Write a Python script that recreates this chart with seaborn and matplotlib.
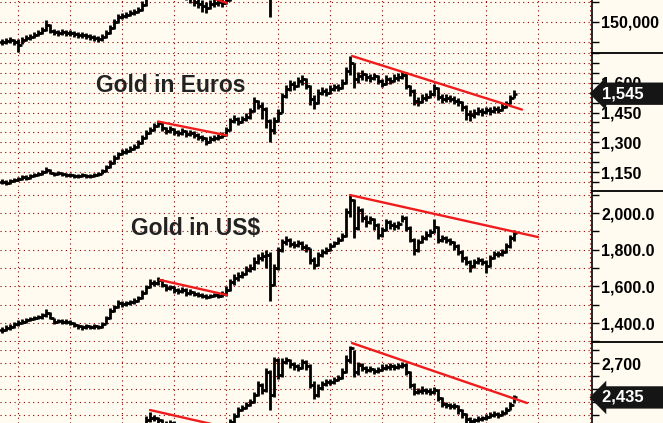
import numpy as np
import pandas as pd
import matplotlib
matplotlib.use("Agg")
import matplotlib.pyplot as plt
from matplotlib.lines import Line2D
import seaborn as sns

# weekly OHLC bars, open = previous close
# top panel (gold in rupees) - only the part visible in the crop
inr_close = [140000, 140500, 141000, 140000, 138500, 141000, 142000, 142500, 143500, 144500,
             146000, 148500, 145500, 145000, 144500, 145000, 144500, 144500, 144000, 143500,
             143500, 143000, 142500, 142000, 141500, 142500, 144500, 147000, 150000, 152500,
             153000, 153500, 154500, 155000, 156000, 158500, 162000, 164000, 166000, 168000,
             166000, 165000, 165000, 164000, 163500, 164000, 163000, 162000, 160000, 159000,
             158000, 157000, 159000, 159500, 160000, 159500, 161000, 166000, 168500, 170000,
             171000, 173000, 175000, 178500, 180000, 181000, 178500, 166000, 173500, 181000,
             188500, 191000, 193500]
inr_high = [141500, 142000, 142500, 141500, 141500, 142500, 143500, 144000, 145000, 146000,
            147500, 151000, 149000, 146500, 146000, 146500, 146000, 146000, 145500, 145000,
            145000, 144500, 144000, 143500, 143000, 144000, 146000, 148500, 151500, 154000,
            154500, 155000, 156000, 156500, 157500, 160500, 164000, 166000, 168000, 170000,
            168500, 167000, 167000, 166000, 165500, 166000, 165000, 164000, 163000, 162000,
            161000, 160000, 161000, 161500, 162000, 161500, 166000, 168500, 171000, 172000,
            173000, 175500, 178500, 181000, 182500, 183500, 182000, 180000, 176000, 184000,
            191000, 193500, 196000]
inr_low = [138500, 139000, 139500, 138500, 135000, 139000, 140500, 141000, 142000, 143000,
           144000, 145500, 144500, 143500, 143000, 143500, 143000, 143000, 142500, 142000,
           142000, 141500, 141000, 140500, 140000, 140500, 142000, 144000, 146500, 149500,
           151500, 152000, 153000, 153500, 154500, 155500, 158000, 161500, 163500, 165500,
           164000, 163000, 163000, 162000, 161500, 162000, 161000, 159500, 158000, 157000,
           155000, 154500, 156500, 157500, 158000, 157500, 159000, 160500, 165500, 167500,
           169000, 170500, 172500, 174500, 177500, 178500, 170000, 152500, 164000, 172000,
           180000, 187500, 190000]

eur_close = [1100, 1095, 1105, 1110, 1115, 1125, 1120, 1130, 1135, 1140,
             1150, 1160, 1145, 1140, 1145, 1140, 1135, 1135, 1130, 1130,
             1135, 1130, 1130, 1135, 1140, 1155, 1175, 1195, 1220, 1240,
             1250, 1255, 1265, 1275, 1295, 1320, 1345, 1360, 1380, 1395,
             1370, 1355, 1365, 1350, 1345, 1355, 1340, 1345, 1335, 1325,
             1320, 1300, 1315, 1320, 1325, 1335, 1360, 1410, 1420, 1405,
             1420, 1430, 1460, 1510, 1485, 1470, 1410, 1360, 1410, 1450,
             1535, 1570, 1595, 1585, 1610, 1620, 1585, 1520, 1500, 1550,
             1560, 1550, 1570, 1580, 1575, 1600, 1660, 1700, 1620, 1635,
             1645, 1630, 1625, 1635, 1610, 1595, 1620, 1610, 1625, 1630,
             1640, 1585, 1560, 1510, 1505, 1525, 1530, 1545, 1575, 1530,
             1520, 1525, 1520, 1510, 1505, 1480, 1445, 1440, 1450, 1460,
             1455, 1465, 1460, 1470, 1465, 1480, 1495, 1525, 1545]
eur_high = [1115, 1110, 1115, 1120, 1125, 1135, 1135, 1140, 1145, 1150,
            1160, 1175, 1165, 1150, 1155, 1150, 1145, 1145, 1140, 1140,
            1145, 1140, 1140, 1145, 1150, 1165, 1185, 1210, 1235, 1250,
            1265, 1270, 1280, 1290, 1310, 1335, 1360, 1375, 1395, 1410,
            1400, 1375, 1380, 1370, 1360, 1370, 1360, 1360, 1355, 1345,
            1335, 1325, 1330, 1335, 1340, 1350, 1375, 1425, 1440, 1430,
            1435, 1450, 1475, 1530, 1515, 1505, 1480, 1420, 1430, 1470,
            1550, 1590, 1615, 1610, 1630, 1640, 1625, 1590, 1540, 1570,
            1580, 1575, 1590, 1595, 1595, 1620, 1680, 1735, 1700, 1655,
            1665, 1650, 1645, 1650, 1640, 1620, 1640, 1630, 1645, 1650,
            1660, 1655, 1590, 1570, 1530, 1545, 1550, 1565, 1595, 1580,
            1545, 1545, 1540, 1535, 1525, 1510, 1490, 1465, 1470, 1480,
            1475, 1480, 1480, 1485, 1485, 1500, 1510, 1540, 1565]
eur_low = [1090, 1085, 1090, 1100, 1105, 1110, 1110, 1115, 1125, 1130,
           1135, 1145, 1140, 1130, 1135, 1130, 1125, 1125, 1120, 1120,
           1125, 1120, 1120, 1125, 1130, 1140, 1150, 1170, 1190, 1215,
           1235, 1240, 1250, 1260, 1270, 1290, 1315, 1340, 1355, 1375,
           1355, 1340, 1345, 1335, 1330, 1335, 1325, 1330, 1320, 1310,
           1305, 1285, 1295, 1305, 1310, 1320, 1330, 1355, 1395, 1385,
           1395, 1410, 1420, 1455, 1470, 1420, 1370, 1300, 1340, 1400,
           1450, 1525, 1560, 1565, 1580, 1590, 1570, 1490, 1470, 1495,
           1540, 1535, 1545, 1560, 1560, 1570, 1595, 1640, 1575, 1600,
           1615, 1610, 1605, 1615, 1595, 1580, 1590, 1595, 1605, 1610,
           1620, 1570, 1535, 1490, 1485, 1500, 1510, 1525, 1535, 1515,
           1500, 1505, 1505, 1495, 1485, 1460, 1415, 1410, 1425, 1440,
           1435, 1445, 1440, 1450, 1450, 1460, 1475, 1495, 1525]

usd_close = [1362, 1373, 1379, 1395, 1400, 1406, 1417, 1422, 1428, 1433,
             1444, 1455, 1428, 1406, 1411, 1406, 1406, 1400, 1390, 1384,
             1379, 1384, 1379, 1384, 1379, 1395, 1428, 1466, 1488, 1510,
             1504, 1510, 1515, 1520, 1537, 1564, 1597, 1618, 1618, 1635,
             1608, 1591, 1597, 1580, 1575, 1580, 1564, 1569, 1558, 1553,
             1548, 1542, 1548, 1553, 1548, 1558, 1580, 1624, 1646, 1657,
             1668, 1689, 1700, 1733, 1755, 1766, 1771, 1608, 1700, 1798,
             1842, 1853, 1831, 1826, 1836, 1815, 1809, 1744, 1717, 1771,
             1787, 1798, 1820, 1836, 1853, 1875, 2005, 2071, 1918, 2016,
             1973, 1951, 1967, 1935, 1880, 1907, 1951, 1935, 1929, 1940,
             1973, 1918, 1853, 1798, 1842, 1864, 1880, 1896, 1924, 1853,
             1864, 1853, 1842, 1820, 1787, 1755, 1733, 1711, 1733, 1744,
             1733, 1711, 1755, 1777, 1777, 1787, 1820, 1864, 1891]
usd_high = [1380, 1390, 1395, 1405, 1415, 1420, 1430, 1435, 1440, 1445,
            1455, 1475, 1460, 1430, 1425, 1420, 1420, 1415, 1405, 1395,
            1392, 1395, 1392, 1395, 1392, 1405, 1440, 1480, 1500, 1525,
            1520, 1522, 1525, 1535, 1550, 1580, 1610, 1640, 1635, 1650,
            1640, 1615, 1610, 1600, 1590, 1595, 1590, 1585, 1575, 1570,
            1565, 1560, 1560, 1565, 1565, 1575, 1600, 1640, 1665, 1680,
            1685, 1710, 1720, 1760, 1775, 1790, 1800, 1790, 1720, 1815,
            1860, 1875, 1865, 1850, 1855, 1845, 1830, 1810, 1760, 1790,
            1805, 1815, 1835, 1850, 1870, 1890, 2030, 2098, 2075, 2040,
            2030, 1990, 1985, 1975, 1945, 1925, 1970, 1960, 1950, 1955,
            1990, 1985, 1930, 1865, 1860, 1880, 1900, 1915, 1965, 1930,
            1880, 1875, 1865, 1850, 1830, 1800, 1765, 1745, 1750, 1760,
            1755, 1745, 1770, 1795, 1795, 1805, 1835, 1880, 1905]
usd_low = [1345, 1355, 1365, 1375, 1385, 1395, 1400, 1410, 1415, 1420,
           1425, 1435, 1420, 1395, 1400, 1395, 1395, 1390, 1380, 1370,
           1365, 1370, 1368, 1370, 1368, 1375, 1395, 1425, 1460, 1480,
           1490, 1495, 1500, 1505, 1515, 1530, 1560, 1590, 1600, 1610,
           1595, 1575, 1580, 1565, 1560, 1565, 1550, 1555, 1545, 1540,
           1535, 1530, 1535, 1540, 1535, 1540, 1550, 1575, 1610, 1630,
           1645, 1660, 1680, 1690, 1720, 1740, 1700, 1520, 1600, 1690,
           1790, 1825, 1815, 1810, 1815, 1800, 1790, 1720, 1695, 1710,
           1760, 1775, 1795, 1815, 1830, 1850, 1870, 1980, 1865, 1905,
           1950, 1925, 1940, 1910, 1860, 1870, 1900, 1915, 1905, 1915,
           1950, 1900, 1840, 1770, 1790, 1835, 1855, 1870, 1890, 1835,
           1840, 1835, 1825, 1800, 1770, 1735, 1715, 1680, 1700, 1720,
           1715, 1675, 1705, 1750, 1760, 1765, 1780, 1810, 1850]

# bottom panel (gold in Canadian dollars)
cad_close = [1491, 1506, 1522, 1553, 1568, 1583, 1599, 1607, 1622, 1630,
             1645, 1676, 1645, 1622, 1630, 1622, 1622, 1614, 1599, 1591,
             1583, 1591, 1583, 1591, 1583, 1614, 1676, 1737, 1799, 1876,
             1915, 1938, 1968, 2015, 2107, 2199, 2261, 2276, 2276, 2261,
             2230, 2223, 2238, 2223, 2215, 2199, 2184, 2184, 2169, 2161,
             2146, 2138, 2146, 2153, 2146, 2169, 2199, 2246, 2292, 2338,
             2354, 2377, 2400, 2454, 2531, 2492, 2631, 2454, 2723, 2608,
             2708, 2723, 2692, 2677, 2662, 2708, 2677, 2531, 2454, 2508,
             2538, 2554, 2554, 2569, 2585, 2631, 2723, 2816, 2631, 2685,
             2662, 2646, 2654, 2638, 2646, 2662, 2669, 2677, 2669, 2677,
             2685, 2631, 2531, 2477, 2484, 2492, 2484, 2477, 2492, 2431,
             2384, 2377, 2369, 2369, 2338, 2307, 2269, 2253, 2261, 2269,
             2276, 2284, 2300, 2307, 2300, 2315, 2338, 2377, 2435]
cad_high = [1520, 1530, 1545, 1575, 1590, 1605, 1620, 1630, 1645, 1650,
            1665, 1700, 1680, 1650, 1650, 1645, 1645, 1635, 1625, 1610,
            1605, 1610, 1605, 1610, 1605, 1635, 1695, 1760, 1820, 1900,
            1940, 1960, 1990, 2040, 2130, 2225, 2290, 2320, 2300, 2285,
            2270, 2250, 2260, 2250, 2240, 2225, 2210, 2205, 2195, 2185,
            2170, 2160, 2165, 2175, 2170, 2190, 2220, 2265, 2315, 2360,
            2375, 2400, 2425, 2480, 2560, 2545, 2660, 2650, 2750, 2735,
            2735, 2745, 2730, 2705, 2690, 2730, 2720, 2690, 2560, 2540,
            2560, 2580, 2580, 2590, 2605, 2660, 2760, 2830, 2800, 2705,
            2700, 2675, 2675, 2665, 2670, 2690, 2690, 2700, 2690, 2700,
            2710, 2700, 2640, 2545, 2510, 2520, 2510, 2505, 2515, 2500,
            2440, 2400, 2395, 2390, 2375, 2345, 2315, 2285, 2280, 2290,
            2295, 2305, 2320, 2330, 2325, 2335, 2360, 2400, 2450]
cad_low = [1470, 1485, 1500, 1525, 1545, 1560, 1575, 1585, 1600, 1610,
           1625, 1640, 1630, 1600, 1610, 1600, 1600, 1595, 1580, 1570,
           1565, 1570, 1565, 1570, 1565, 1575, 1610, 1670, 1730, 1790,
           1870, 1910, 1935, 1965, 2010, 2100, 2195, 2245, 2250, 2235,
           2205, 2200, 2210, 2200, 2195, 2180, 2165, 2165, 2150, 2140,
           2125, 2115, 2125, 2130, 2125, 2140, 2160, 2195, 2240, 2285,
           2330, 2345, 2370, 2395, 2445, 2460, 2480, 2340, 2440, 2575,
           2595, 2690, 2665, 2650, 2640, 2655, 2650, 2505, 2420, 2440,
           2495, 2525, 2530, 2540, 2560, 2580, 2620, 2700, 2590, 2610,
           2640, 2620, 2630, 2615, 2625, 2635, 2645, 2650, 2645, 2655,
           2660, 2610, 2510, 2455, 2460, 2465, 2460, 2455, 2465, 2410,
           2365, 2355, 2345, 2345, 2310, 2280, 2240, 2225, 2235, 2245,
           2255, 2260, 2275, 2285, 2280, 2290, 2310, 2335, 2390]

# red trend lines: (bar index, price) end points
inr_trend = [[(39, 171000), (56.25, 159500)]]
eur_trend = [[(39, 1405), (56.25, 1335)], [(87.5, 1735), (130, 1465)]]
usd_trend = [[(39.5, 1635), (56.25, 1553)], [(87, 2098), (134, 1869)]]
cad_trend = [[(37, 2338), (56.25, 2203)], [(87.5, 2854), (131.25, 2392)]]

inr_ticks = [140000, 150000, 160000]
inr_labels = ["", "150,000", ""]
eur_ticks = list(range(1100, 1751, 50))
eur_labels = [f"{t:,}" if t in (1150, 1300, 1450, 1600) else "" for t in eur_ticks]
usd_ticks = list(range(1300, 2101, 100))
usd_labels = [f"{t:,.1f}" if t in (1400, 1600, 1800, 2000) else "" for t in usd_ticks]
cad_ticks = list(range(2300, 2801, 100))
cad_labels = [f"{t:,}" if t == 2700 else "" for t in cad_ticks]

sns.set_style("white")
plt.rcParams['font.family'] = ['Liberation Sans', 'DejaVu Sans']

BG = '#fffbf0'
GRID = '#8b0000'
W, H = 663, 423
RIGHT = 592

fig = plt.figure(figsize=(W / 100, H / 100), dpi=100)
fig.patch.set_facecolor(BG)


def make_axes(top, bottom, ylim, ticks, labels):
    ax = fig.add_axes([0, 1 - bottom / H, RIGHT / W, (bottom - top) / H])
    ax.set_facecolor(BG)
    ax.set_xlim(-0.5, 147.5)
    ax.set_ylim(*ylim)
    ax.set_xticks(np.arange(4, 148, 13))
    ax.tick_params(axis='x', length=0, labelbottom=False)
    ax.set_yticks(ticks)
    ax.set_yticklabels(labels)
    ax.yaxis.tick_right()
    ax.tick_params(axis='y', direction='out', length=5, width=1, pad=1.5,
                   labelsize=11.5, colors='black')
    for lab in ax.get_yticklabels():
        lab.set_fontweight('bold')
    ax.grid(True, color=GRID, linestyle=(0, (1, 3.2)), lw=0.8)
    ax.set_axisbelow(True)
    for s in ['left', 'top', 'bottom']:
        ax.spines[s].set_visible(False)
    ax.spines['right'].set_linewidth(1.2)
    ax.spines['right'].set_color('black')
    return ax


def draw_bars(ax, high, low, close):
    x = np.arange(len(close))
    close = np.asarray(close)
    opens = np.r_[close[0], close[:-1]]
    ax.vlines(x, low, high, color='black', lw=2.0, zorder=3)
    ax.hlines(opens, x - 0.65, x, color='black', lw=1.8, zorder=3)
    ax.hlines(close, x, x + 0.65, color='black', lw=1.8, zorder=3)


def draw_trend(ax, segs):
    rows = [(k, x, y) for k, seg in enumerate(segs) for x, y in seg]
    df = pd.DataFrame(rows, columns=['seg', 'x', 'y'])
    sns.lineplot(data=df, x='x', y='y', units='seg', estimator=None, color='#ee1c1c',
                 lw=1.7, ax=ax, zorder=4, legend=False)
    ax.set_xlabel('')
    ax.set_ylabel('')


def price_tag(ax, value):
    ax.annotate(f"{value:,}    ", xy=(1, value), xycoords=('axes fraction', 'data'),
                xytext=(7, 0), textcoords='offset points', ha='left', va='center',
                color='white', fontsize=12, fontweight='bold', annotation_clip=False,
                bbox=dict(boxstyle='larrow,pad=0.22', fc='#151515', ec='none'), zorder=10)


ax_inr = make_axes(0, 53, (134500, 161000), inr_ticks, inr_labels)
ax_eur = make_axes(53, 191, (1055, 1745), eur_ticks, eur_labels)
ax_usd = make_axes(191, 342, (1297, 2120), usd_ticks, usd_labels)
ax_cad = make_axes(342, 423, (2238, 2862), cad_ticks, cad_labels)

draw_bars(ax_inr, inr_high, inr_low, inr_close)
draw_bars(ax_eur, eur_high, eur_low, eur_close)
draw_bars(ax_usd, usd_high, usd_low, usd_close)
draw_bars(ax_cad, cad_high, cad_low, cad_close)

draw_trend(ax_inr, inr_trend)
draw_trend(ax_eur, eur_trend)
draw_trend(ax_usd, usd_trend)
draw_trend(ax_cad, cad_trend)

price_tag(ax_eur, eur_close[-1])
price_tag(ax_cad, cad_close[-1])

# panel separators in the scale area
for y in (53, 191, 342):
    fig.add_artist(Line2D([RIGHT / W, 1], [1 - y / H] * 2, color='black', lw=1.3,
                          transform=fig.transFigure))

fig.text(171 / W, 1 - 92 / H, "Gold in Euros", ha='center', va='baseline',
         fontsize=16.5, fontweight='bold', color='#222222')
fig.text(196 / W, 1 - 235 / H, "Gold in US$", ha='center', va='baseline',
         fontsize=16.5, fontweight='bold', color='#222222')

fig.savefig("out.png", dpi=100, facecolor=BG)
